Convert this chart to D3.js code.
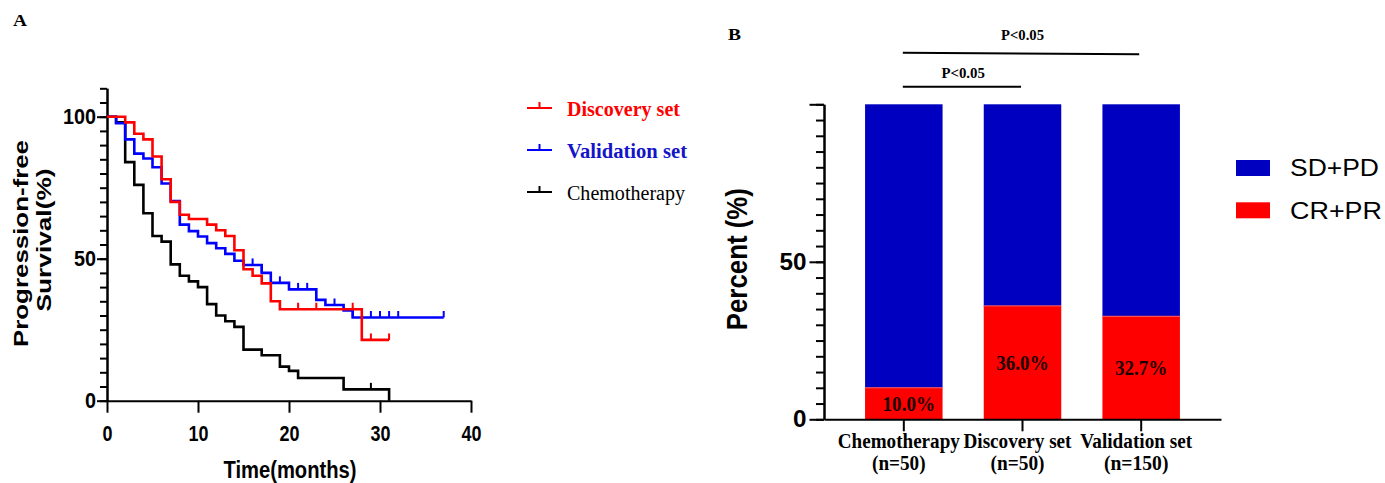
<!DOCTYPE html>
<html>
<head>
<meta charset="utf-8">
<script src="https://cdn.jsdelivr.net/npm/d3@7"></script>
<style>
  body { margin: 0; background: #fff; }
  svg { display: block; }
</style>
</head>
<body>
<svg id="chart" width="1385" height="483"></svg>
<script>
// ---------- Panel A: progression-free survival ----------
const discoveryTimes = [0, 2, 3, 4, 5, 6, 7, 8, 9, 11, 12, 13, 14, 15, 16, 17, 18, 19, 28];
const discoverySurv  = [100, 98, 94, 92, 86, 78, 70, 65.5, 64, 62, 60, 58, 53, 46.3, 44, 41.3, 35, 32.2, 21.4];
const discoveryEnd = 31;
const discoveryCensor = [21, 23, 27, 29, 31];

const validationTimes = [0, 1, 2, 3, 4, 5, 6, 7, 8, 9, 10, 11, 12, 13, 14, 15, 17, 18, 20, 23, 24, 26, 27];
const validationSurv  = [100, 97.7, 92, 87, 85.3, 82.2, 76.5, 70.3, 62, 59.7, 57.8, 55.5, 53.7, 51.7, 49.3, 47.8, 45, 41.5, 39.2, 35.5, 33.7, 31.8, 29.3];
const validationEnd = 37;
const validationCensor = [16, 17, 19, 21, 22, 25, 27, 29, 30, 31, 32, 37];

const chemoTimes = [0, 1, 2, 3, 4, 5, 6, 7, 8, 9, 10, 11, 12, 13, 14, 15, 17, 19, 20, 21, 26, 31];
const chemoSurv  = [100, 98, 84, 76, 66, 58, 56, 48, 44, 42, 40, 34, 30, 28, 26, 18, 16, 12, 10.5, 8, 4, 0];
const chemoEnd = 31;
const chemoCensor = [29];

const survNames = ["Discovery set", "Validation set", "Chemotherapy"];
const survColors = ["#ff0000", "#0000ff", "#000000"];
const legendTextColors = ["#ff0000", "#1414c8", "#000000"];

const timeTicks = [0, 10, 20, 30, 40];
const survTicks = [0, 50, 100];

// ---------- Panel B: objective response ----------
const groups = ["Chemotherapy", "Discovery set", "Validation set"];
const groupN = ["(n=50)", "(n=50)", "(n=150)"];
const crpr = [10.0, 36.0, 32.7];
const sdpd = [90.0, 64.0, 67.3];
const responseNames = ["SD+PD", "CR+PR"];
const pctTicks = [0, 50, 100];

const SANS = "'Liberation Sans', Arial, sans-serif";
const SERIF = "'Liberation Serif', 'Times New Roman', serif";
const BLUE_BAR = "#0000c0";
const RED_BAR = "#ff0000";

const svg = d3.select("#chart");
svg.append("rect").attr("width", 1385).attr("height", 483).attr("fill", "#fff");

function label(g, x, y, str, o) {
  const t = g.append("text")
    .attr("x", x).attr("y", y)
    .attr("font-family", o.family || SANS)
    .attr("font-size", o.size)
    .attr("font-weight", o.weight || "normal")
    .attr("fill", o.fill || "#000")
    .attr("text-anchor", o.anchor || "start")
    .text(str);
  if (o.width) t.attr("textLength", o.width).attr("lengthAdjust", "spacingAndGlyphs");
  return t;
}

function styleAxis(g) {
  g.selectAll("path.domain").attr("stroke", "#000").attr("stroke-width", 2);
  g.selectAll(".tick line").attr("stroke", "#000").attr("stroke-width", 2);
}

// ================= Panel A =================
const gA = svg.append("g");
const xA = d3.scaleLinear().domain([0, 40]).range([107, 471]);
const yA = d3.scaleLinear().domain([0, 110]).range([400.7, 88.3]);

label(gA, 13, 26, "A", { family: SERIF, size: 16, weight: "bold", width: 14 });

// y axis: minor ticks every 5, major at 0/50/100
gA.append("g").attr("transform", "translate(107,0)")
  .call(d3.axisLeft(yA).tickValues(d3.range(0, 111, 5)).tickSize(7).tickSizeOuter(0).tickFormat(""))
  .call(styleAxis);
const yAxA = gA.append("g").attr("transform", "translate(107,0)")
  .call(d3.axisLeft(yA).tickValues(survTicks).tickSize(10).tickSizeOuter(0).tickPadding(1))
  .call(styleAxis);
yAxA.selectAll("text")
  .attr("font-family", SANS).attr("font-size", 22).attr("font-weight", "bold").attr("fill", "#000")
  .each(function (d) {
    d3.select(this).attr("textLength", String(d).length * 11).attr("lengthAdjust", "spacingAndGlyphs");
  });

const xAxA = gA.append("g").attr("transform", `translate(0,${yA(0)})`)
  .call(d3.axisBottom(xA).tickValues(timeTicks).tickSize(12).tickSizeOuter(0).tickPadding(13))
  .call(styleAxis);
xAxA.selectAll("text")
  .attr("font-family", SANS).attr("font-size", 22).attr("font-weight", "bold").attr("fill", "#000")
  .each(function (d) {
    d3.select(this).attr("textLength", String(d).length * 10).attr("lengthAdjust", "spacingAndGlyphs");
  });

// axis titles
label(gA, 290, 478, "Time(months)", { size: 23, weight: "bold", anchor: "middle", width: 133 });
gA.append("text").attr("transform", "translate(28,243.5) scale(0.8,1) rotate(-90)")
  .attr("font-family", SANS).attr("font-size", 26).attr("font-weight", "bold")
  .attr("text-anchor", "middle").attr("textLength", 207).attr("lengthAdjust", "spacingAndGlyphs")
  .text("Progression-free");
gA.append("text").attr("transform", "translate(51,240) scale(0.8,1) rotate(-90)")
  .attr("font-family", SANS).attr("font-size", 26).attr("font-weight", "bold")
  .attr("text-anchor", "middle").attr("textLength", 143).attr("lengthAdjust", "spacingAndGlyphs")
  .text("Survival(%)");

// survival step curves
const curves = [
  { times: discoveryTimes, surv: discoverySurv, end: discoveryEnd, censor: discoveryCensor },
  { times: validationTimes, surv: validationSurv, end: validationEnd, censor: validationCensor },
  { times: chemoTimes, surv: chemoSurv, end: chemoEnd, censor: chemoCensor }
];
const stepLine = d3.line().x(d => xA(d[0])).y(d => yA(d[1])).curve(d3.curveStepAfter);

// draw chemotherapy first, then validation, then discovery on top
[2, 1, 0].forEach(i => {
  const c = curves[i];
  const pts = c.times.map((t, k) => [t, c.surv[k]]);
  pts.push([c.end, c.surv[c.surv.length - 1]]);
  gA.append("path").attr("d", stepLine(pts))
    .attr("fill", "none").attr("stroke", survColors[i]).attr("stroke-width", 2.6)
    .attr("stroke-linejoin", "miter");
  const survAt = t => {
    let v = c.surv[0];
    c.times.forEach((tt, k) => { if (tt <= t) v = c.surv[k]; });
    return v;
  };
  c.censor.forEach(t => {
    const y = yA(survAt(t));
    gA.append("line").attr("x1", xA(t)).attr("x2", xA(t)).attr("y1", y).attr("y2", y - 6.5)
      .attr("stroke", survColors[i]).attr("stroke-width", 2);
  });
});

// legend A
const legA = gA.append("g");
const legAy = [108, 150, 192];
const legAw = [113, 120, 118];
survNames.forEach((name, i) => {
  const y = legAy[i];
  legA.append("line").attr("x1", 527).attr("x2", 552).attr("y1", y).attr("y2", y)
    .attr("stroke", survColors[i]).attr("stroke-width", 2);
  legA.append("line").attr("x1", 539.5).attr("x2", 539.5).attr("y1", y).attr("y2", y - 6)
    .attr("stroke", survColors[i]).attr("stroke-width", 2);
  label(legA, 567, y + 8, name, {
    family: SERIF, size: 20, weight: i < 2 ? "bold" : "normal",
    fill: legendTextColors[i], width: legAw[i]
  });
});

// ================= Panel B =================
const gB = svg.append("g");
const xB = d3.scaleBand().domain(groups).range([824, 1221]).paddingInner(0.347).paddingOuter(0.346);
const yB = d3.scaleLinear().domain([0, 100]).range([419.3, 104.3]);

label(gB, 728, 40, "B", { family: SERIF, size: 17, weight: "bold", width: 13 });

// stacked bars
groups.forEach((g, i) => {
  gB.append("rect").attr("x", xB(g)).attr("width", xB.bandwidth())
    .attr("y", yB(crpr[i] + sdpd[i])).attr("height", yB(crpr[i]) - yB(crpr[i] + sdpd[i]))
    .attr("fill", BLUE_BAR);
  gB.append("rect").attr("x", xB(g)).attr("width", xB.bandwidth())
    .attr("y", yB(crpr[i])).attr("height", yB(0) - yB(crpr[i]))
    .attr("fill", RED_BAR);
  gB.append("line").attr("x1", xB(g)).attr("x2", xB(g) + xB.bandwidth())
    .attr("y1", yB(crpr[i])).attr("y2", yB(crpr[i]))
    .attr("stroke", "#ff5a5a").attr("stroke-width", 1);
  const cy = (yB(0) + yB(crpr[i])) / 2;
  label(gB, xB(g) + xB.bandwidth() / 2 + (i === 0 ? 5 : 0), cy + 7.5, crpr[i].toFixed(1) + "%",
    { family: SERIF, size: 20, weight: "bold", anchor: "middle", fill: "#1a0000", width: 52.5 });
});

// y axis B
gB.append("g").attr("transform", "translate(824,0)")
  .call(d3.axisLeft(yB).tickValues(d3.range(0, 101, 5)).tickSize(8).tickSizeOuter(0).tickFormat(""))
  .call(styleAxis);
const yAxB = gB.append("g").attr("transform", "translate(824,0)")
  .call(d3.axisLeft(yB).tickValues(pctTicks).tickSize(14.5).tickSizeOuter(0).tickPadding(3)
    .tickFormat(d => d === 100 ? "" : d))
  .call(styleAxis);
yAxB.selectAll("text")
  .attr("font-family", SANS).attr("font-size", 23).attr("font-weight", "bold").attr("fill", "#000")
  .each(function (d) {
    if (d !== 100) d3.select(this).attr("textLength", String(d).length * 13.5).attr("lengthAdjust", "spacingAndGlyphs");
  });

// x axis B
gB.append("g").attr("transform", `translate(0,${yB(0)})`)
  .call(d3.axisBottom(xB).tickSize(12).tickSizeOuter(0).tickFormat(""))
  .call(styleAxis);

const catW = [122, 108, 112];
const nW = [53.5, 54, 64.5];
groups.forEach((g, i) => {
  const cx = xB(g) + xB.bandwidth() / 2;
  label(gB, cx - 5, 448, g, { family: SERIF, size: 20, weight: "bold", anchor: "middle", width: catW[i] });
  label(gB, cx - 5, 470, groupN[i], { family: SERIF, size: 20, weight: "bold", anchor: "middle", width: nW[i] });
});

gB.append("text").attr("transform", "translate(747.4,259.2) scale(1.12,1) rotate(-90)")
  .attr("font-family", SANS).attr("font-size", 26).attr("font-weight", "bold")
  .attr("text-anchor", "middle").attr("textLength", 142).attr("lengthAdjust", "spacingAndGlyphs")
  .text("Percent (%)");

// significance brackets
const cx0 = xB(groups[0]) + xB.bandwidth() / 2;
const cx1 = xB(groups[1]) + xB.bandwidth() / 2;
const cx2 = xB(groups[2]) + xB.bandwidth() / 2;
gB.append("line").attr("x1", cx0 - 1).attr("x2", cx2 - 2).attr("y1", 52.7).attr("y2", 54.3)
  .attr("stroke", "#000").attr("stroke-width", 2);
label(gB, (cx0 + cx2) / 2, 39.5, "P<0.05", { family: SERIF, size: 15, weight: "bold", anchor: "middle", width: 43 });
gB.append("line").attr("x1", cx0 - 1).attr("x2", cx1 - 1.5).attr("y1", 86.7).attr("y2", 86.7)
  .attr("stroke", "#000").attr("stroke-width", 2);
label(gB, (cx0 + cx1) / 2, 77.5, "P<0.05", { family: SERIF, size: 15, weight: "bold", anchor: "middle", width: 43.5 });

// legend B
const legB = gB.append("g");
const legBcolors = [BLUE_BAR, RED_BAR];
const legBy = [160, 202.3];
const legBw = [89, 92];
responseNames.forEach((name, i) => {
  legB.append("rect").attr("x", 1236).attr("y", legBy[i]).attr("width", 34).attr("height", 16)
    .attr("fill", legBcolors[i]);
  label(legB, 1290, legBy[i] + 16.3, name, { size: 23, width: legBw[i] });
});
</script>
</body>
</html>
